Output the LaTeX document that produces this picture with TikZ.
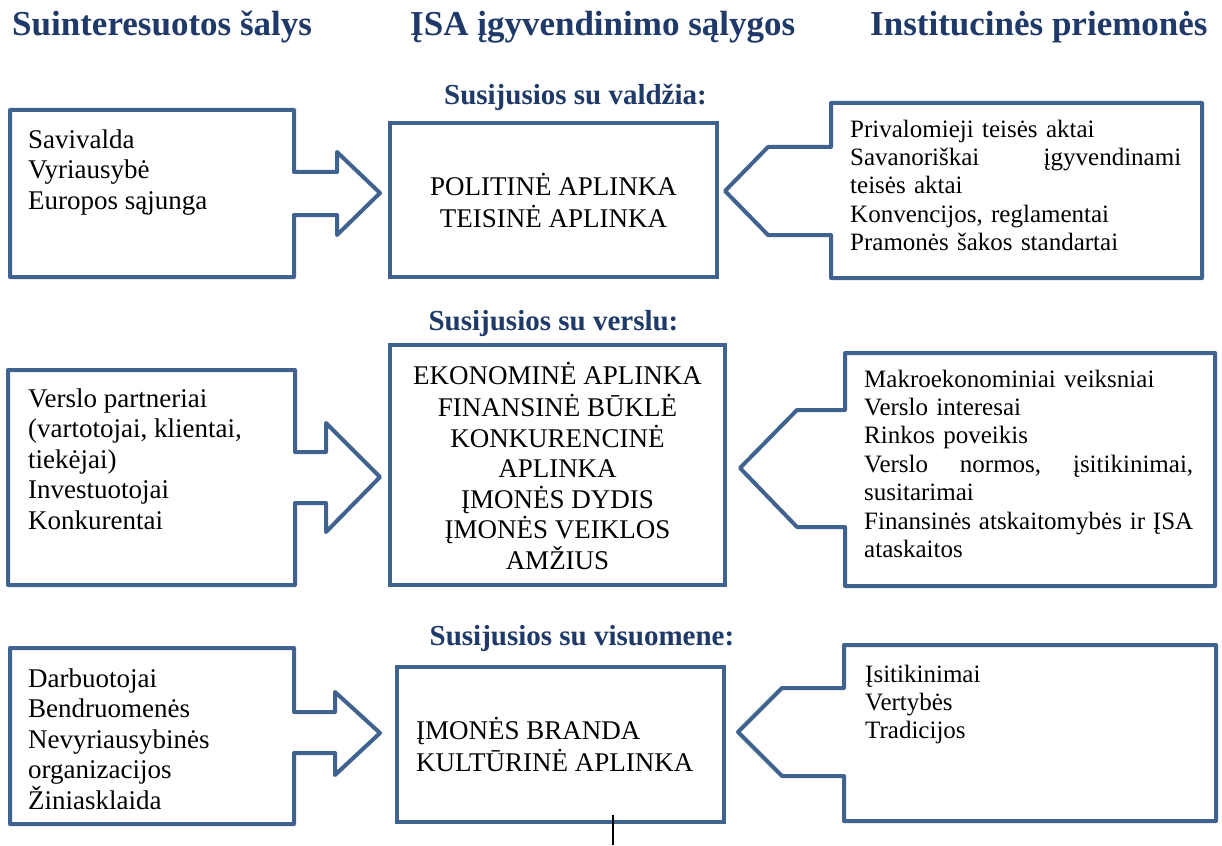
\documentclass[tikz,border=0pt]{standalone}
\usepackage{fontspec}
\setmainfont{Liberation Serif}
\definecolor{boxblue}{RGB}{64,98,143}
\definecolor{headblue}{RGB}{31,58,104}
\begin{document}
\begin{tikzpicture}[x=1pt,y=-1pt,
  outline/.style={draw=boxblue, line width=4pt, line join=round},
  midbox/.style={draw=boxblue, line width=4pt, inner sep=0pt},
  headtxt/.style={font=\fontsize{35}{40}\selectfont\bfseries, text=headblue, inner sep=0pt, anchor=base west},
  subtxt/.style={font=\fontsize{29}{34}\selectfont\bfseries, text=headblue, inner sep=0pt, anchor=base},
  lefttxt/.style={font=\fontsize{27}{30.5}\selectfont, align=left, inner sep=0pt, anchor=north west},
  midtxt/.style={font=\fontsize{27}{30.5}\selectfont, align=center, inner sep=0pt, anchor=north},
  righttxt/.style={font=\fontsize{25}{28.4}\selectfont, text width=#1, align=left, inner sep=0pt, anchor=north west},
  righttxt/.default=330pt]
\useasboundingbox (0,0) rectangle (1222,845);
\fill[white] (0,0) rectangle (1222,845);

% column headings
\node[headtxt] (h1) at (12,36) {Suinteresuotos šalys};
\node[headtxt] (h2) at (410,36) {ĮSA įgyvendinimo sąlygos};
\node[headtxt] (h3) at (870,36) {Institucinės priemonės};

% row headings
\node[subtxt] (s1) at (575.5,105) {Susijusios su valdžia:};
\node[subtxt] (s2) at (553.5,330) {Susijusios su verslu:};
\node[subtxt] (s3) at (582,645) {Susijusios su visuomene:};

% left callouts (pointing right)
\draw[outline] (10,110) -- (294,110) -- (294,172) -- (337,172) -- (337,152) -- (380,193)
  -- (337,235) -- (337,215) -- (294,215) -- (294,277) -- (10,277) -- cycle;
\draw[outline] (8,370) -- (295,370) -- (295,452) -- (326,452) -- (326,423) -- (380,477)
  -- (326,532) -- (326,503) -- (295,503) -- (295,585) -- (8,585) -- cycle;
\draw[outline] (10,648) -- (294,648) -- (294,712) -- (335,712) -- (335,692) -- (380,733)
  -- (335,775) -- (335,753) -- (294,753) -- (294,824) -- (10,824) -- cycle;

% right callouts (pointing left)
\draw[outline] (831,103) -- (1202,103) -- (1202,278) -- (831,278) -- (831,235) -- (768,235)
  -- (725,191) -- (768,147) -- (831,147) -- cycle;
\draw[outline] (845,353) -- (1215,353) -- (1215,586) -- (845,586) -- (845,527) -- (797,527)
  -- (740,468) -- (797,410) -- (845,410) -- cycle;
\draw[outline] (844,645) -- (1216,645) -- (1216,821) -- (844,821) -- (844,776) -- (782,776)
  -- (738,732) -- (782,688) -- (844,688) -- cycle;

% middle boxes
\node[midbox, minimum width=327pt, minimum height=154pt] (c1) at (553.5,200) {};
\node[midbox, minimum width=335pt, minimum height=240pt] (c2) at (557.5,465) {};
\node[midbox, minimum width=327pt, minimum height=155pt] (c3) at (560.5,744.5) {};

% left texts
\node[lefttxt] (l1) at (28,126.6) {\strut Savivalda\\Vyriausybė\\Europos sąjunga};
\node[lefttxt] (l2) at (28,385.6) {\strut Verslo partneriai\\(vartotojai, klientai,\\tiekėjai)\\Investuotojai\\Konkurentai};
\node[lefttxt] (l3) at (28,665.6) {\strut Darbuotojai\\Bendruomenės\\Nevyriausybinės\\organizacijos\\Žiniasklaida};

% middle texts
\node[midtxt] (ct1) at (553.5,172.6) {\strut POLITINĖ APLINKA\\TEISINĖ APLINKA};
\node[midtxt] (ct2) at (557.5,361.6) {\strut EKONOMINĖ APLINKA\\FINANSINĖ BŪKLĖ\\KONKURENCINĖ\\APLINKA\\ĮMONĖS DYDIS\\ĮMONĖS VEIKLOS\\AMŽIUS};
\node[lefttxt] (ct3) at (416,716.6) {\strut ĮMONĖS BRANDA\\KULTŪRINĖ APLINKA};

% right texts
\node[righttxt=331pt] (r1) at (850,117.1) {\strut Privalomieji teisės aktai\\Savanoriškai\hfill įgyvendinami\\teisės aktai\\Konvencijos, reglamentai\\Pramonės šakos standartai};
\node[righttxt=329pt] (r2) at (864,367.1) {\strut Makroekonominiai veiksniai\\Verslo interesai\\Rinkos poveikis\\Verslo\hfill normos,\hfill įsitikinimai,\\susitarimai\\Finansinės\hfill atskaitomybės\hfill ir\hfill ĮSA\\ataskaitos};
\node[righttxt=329pt] (r3) at (865,662.1) {\strut Įsitikinimai\\Vertybės\\Tradicijos};

% small mark below the bottom middle box
\coordinate (mk1) at (613,815);
\coordinate (mk2) at (613,845);
\draw[black, line width=1.6pt] (mk1) -- (mk2);
\end{tikzpicture}
\end{document}
